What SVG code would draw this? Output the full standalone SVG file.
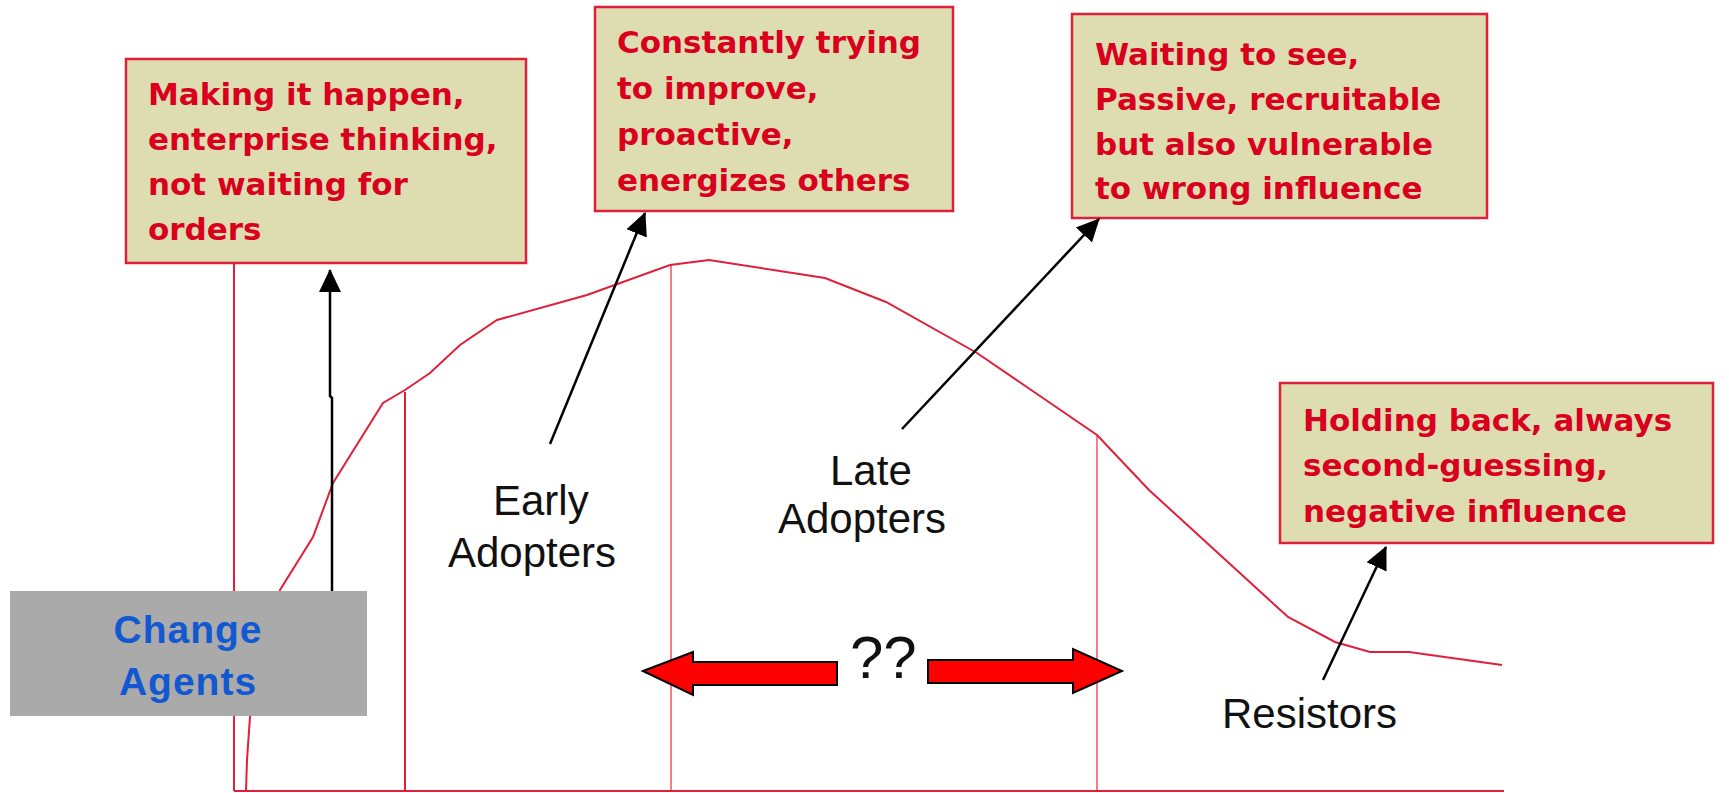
<svg xmlns="http://www.w3.org/2000/svg" width="1729" height="793" viewBox="0 0 1729 793">
<defs>
<style>
.box{fill:#DDDDB1;stroke:#E0203A;stroke-width:2.5}
.bt{font-family:"DejaVu Sans",Verdana,sans-serif;font-weight:bold;font-size:31px;fill:#D9001E}
.lbl{font-family:"Liberation Sans",Arial,sans-serif;font-size:42px;fill:#111}
.rl{stroke:#E0203A;stroke-width:2;fill:none}
.rl2{stroke:#EE8090;stroke-width:2;fill:none}
.con{stroke:#000;stroke-width:2.5;fill:none}
.blk{fill:#FF0000;stroke:#000;stroke-width:2}
</style>
<marker id="ah" markerUnits="userSpaceOnUse" markerWidth="24" markerHeight="24" viewBox="0 0 24 24" refX="22" refY="12" orient="auto">
<path d="M0,1 L23,12 L0,23 Z" fill="#000"/>
</marker>
</defs>
<rect width="1729" height="793" fill="#fff"/>
<g id="chart">
<line class="rl" x1="234" y1="263" x2="234" y2="791"/>
<line class="rl" x1="405" y1="392" x2="405" y2="791"/>
<line class="rl2" x1="671" y1="265" x2="671" y2="791"/>
<line class="rl2" x1="1097" y1="435" x2="1097" y2="791"/>
<line class="rl" x1="234" y1="791" x2="1504" y2="791"/>
<polyline class="rl" stroke-width="1.6" points="246,791 247,760 250,717 265,650 280,590 313,537 333,483 383,403 405,390 430,373 460,345 497,320 587,295 670,265 709,260 825,278 886,302 977,353 1097,435 1149,490 1288,617 1335,642 1370,652 1409,652 1502,665"/>
</g>
<g id="change-agents">
<rect x="10" y="591" width="357" height="125" fill="#AAAAAA"/>
<text x="188" y="643" text-anchor="middle" font-family="Liberation Sans,Arial,sans-serif" font-weight="bold" font-size="39" letter-spacing="1" fill="#1258D0">Change</text>
<text x="188" y="695" text-anchor="middle" font-family="Liberation Sans,Arial,sans-serif" font-weight="bold" font-size="39" letter-spacing="1" fill="#1258D0">Agents</text>
</g>
<g id="box-making">
<rect class="box" x="126" y="59" width="400" height="204"/>
<text class="bt" x="148" y="105">Making it happen,</text>
<text class="bt" x="148" y="150">enterprise thinking,</text>
<text class="bt" x="148" y="195">not waiting for</text>
<text class="bt" x="148" y="240">orders</text>
</g>
<g id="box-constantly">
<rect class="box" x="595" y="7" width="358" height="204"/>
<text class="bt" x="617" y="53">Constantly trying</text>
<text class="bt" x="617" y="99">to improve,</text>
<text class="bt" x="617" y="145">proactive,</text>
<text class="bt" x="617" y="191">energizes others</text>
</g>
<g id="box-waiting">
<rect class="box" x="1072" y="14" width="415" height="204"/>
<text class="bt" x="1095" y="65">Waiting to see,</text>
<text class="bt" x="1095" y="110">Passive, recruitable</text>
<text class="bt" x="1095" y="155">but also vulnerable</text>
<text class="bt" x="1095" y="199">to wrong influence</text>
</g>
<g id="box-holding">
<rect class="box" x="1280" y="383" width="433" height="160"/>
<text class="bt" x="1303" y="431">Holding back, always</text>
<text class="bt" x="1303" y="476">second-guessing,</text>
<text class="bt" x="1303" y="522">negative influence</text>
</g>
<g id="label-early">
<text class="lbl" x="493" y="515">Early</text>
<text class="lbl" x="448" y="567">Adopters</text>
</g>
<g id="label-late">
<text class="lbl" x="830" y="485">Late</text>
<text class="lbl" x="778" y="533">Adopters</text>
</g>
<g id="label-resistors">
<text class="lbl" x="1222" y="728">Resistors</text>
</g>
<g id="question">
<polygon class="blk" points="643,671 693,652 693,662 837,662 837,685 693,685 693,695"/>
<polygon class="blk" points="928,660 1073,660 1073,649 1122,671 1073,693 1073,683 928,683"/>
<text x="850" y="678" font-family="Liberation Sans,Arial,sans-serif" font-size="60" fill="#111">??</text>
</g>
<g id="connectors">
<path class="con" d="M332,591 L332,398 L330,396 L330,270" marker-end="url(#ah)"/>
<path class="con" d="M550,444 L645,213" marker-end="url(#ah)"/>
<path class="con" d="M902,429 L1099,219" marker-end="url(#ah)"/>
<path class="con" d="M1323,680 L1386,547" marker-end="url(#ah)"/>
</g>
</svg>
